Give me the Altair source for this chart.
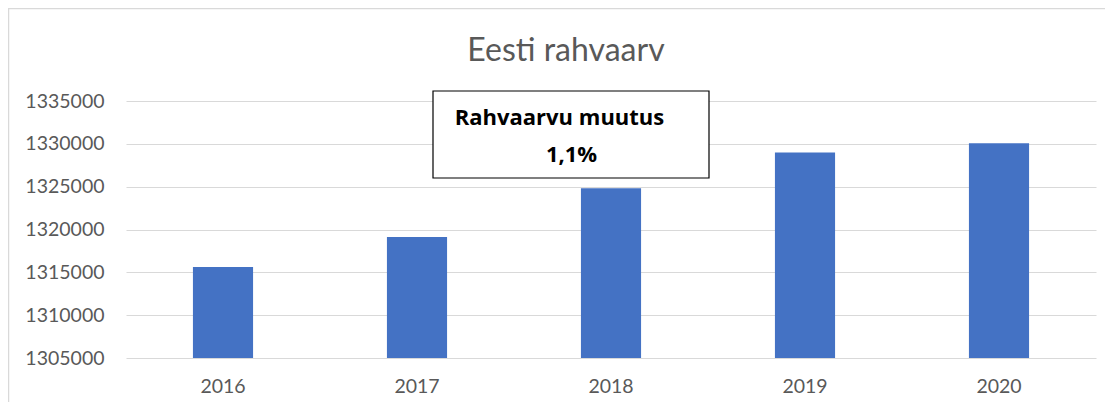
import altair as alt
import pandas as pd

# ---- data ----
years = ["2016", "2017", "2018", "2019", "2020"]
population = [1315635, 1319133, 1324820, 1328976, 1330068]
y_ticks = [1305000, 1310000, 1315000, 1320000, 1325000, 1330000, 1335000]
chart_title = "Eesti rahvaarv"
box_title = "Rahvaarvu muutus"

change_pct = (population[-1] / population[0] - 1) * 100
change_text = f"{change_pct:.1f}%".replace(".", ",")

df = pd.DataFrame({"year": years, "pop": population})

FONT = "Lato"
BOXFONT = "Open Sans"
GRAY = "#595959"
W, H = 970, 257

x_enc = alt.X("year:N", sort=years,
              scale=alt.Scale(paddingInner=0.69, paddingOuter=0.345),
              axis=alt.Axis(title=None, labelAngle=0, ticks=False, domain=False,
                            labelPadding=19, labelFontSize=19.5, labelColor=GRAY,
                            labelFont=FONT, grid=False))
y_scale = alt.Scale(domain=[y_ticks[0], y_ticks[-1]], zero=False, nice=False)

bars = alt.Chart(df).mark_bar(color="#4472C4").encode(
    x=x_enc,
    y=alt.Y("pop:Q", scale=y_scale,
            axis=alt.Axis(title=None, values=y_ticks, format="d", ticks=False,
                          domain=False, labelPadding=22, labelFontSize=19.5,
                          labelColor=GRAY, labelFont=FONT, gridColor="#d9d9d9",
                          gridWidth=1.2)),
    y2=alt.Y2(datum=y_ticks[0]),
)

frame = alt.Chart(alt.Data(values=[{"k": 1}])).mark_rect(
    fill=None, stroke="#d9d9d9", strokeWidth=1.5
).encode(x=alt.value(-117.5), x2=alt.value(W + 30),
         y=alt.value(-92.5), y2=alt.value(H + 80))

title = alt.Chart(alt.Data(values=[{"t": chart_title}])).mark_text(
    font=FONT, fontSize=32, color=GRAY, align="center", baseline="alphabetic"
).encode(text="t:N", x=alt.value(440), y=alt.value(-40))

box = alt.Chart(alt.Data(values=[{"k": 1}])).mark_rect(
    fill="white", stroke="black", strokeWidth=1.2
).encode(x=alt.value(307), x2=alt.value(583),
         y=alt.value(-10), y2=alt.value(77))

txt1 = alt.Chart(alt.Data(values=[{"t": box_title}])).mark_text(
    font=BOXFONT, fontSize=22, fontWeight="bold", color="black",
    align="center", baseline="alphabetic"
).encode(text="t:N", x=alt.value(433.5), y=alt.value(24))

txt2 = alt.Chart(alt.Data(values=[{"t": change_text}])).mark_text(
    font=BOXFONT, fontSize=22, fontWeight="bold", color="black",
    align="center", baseline="alphabetic"
).encode(text="t:N", x=alt.value(445.5), y=alt.value(60.7))

chart = alt.layer(frame, title, bars, box, txt1, txt2).properties(
    width=W, height=H,
    autosize="none",
    padding={"left": 118, "top": 93, "right": 9, "bottom": 44},
    background="white",
).configure_view(stroke=None)

chart.save("out.html", embed_options={"renderer": "svg", "actions": False})
